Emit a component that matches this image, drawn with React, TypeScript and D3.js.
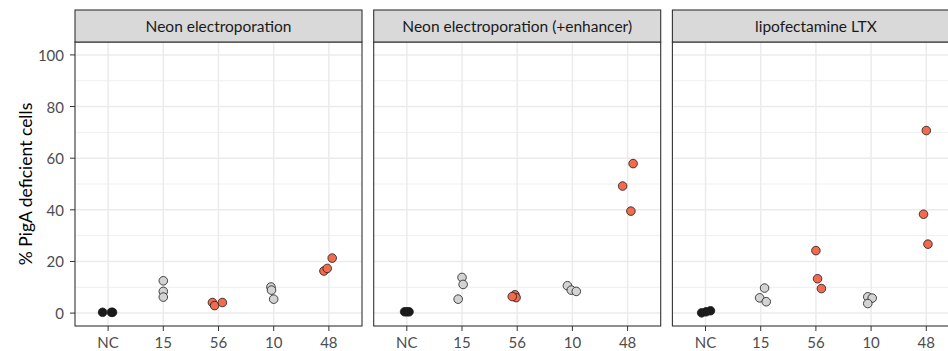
import React from "react";
import * as d3 from "d3";

// facets, doses and colour groups
const facets = [
  "Neon electroporation",
  "Neon electroporation (+enhancer)",
  "lipofectamine LTX",
];
const doses = ["NC", "15", "56", "10", "48"];
const doseFill = ["#1a1a1a", "#d3d3d3", "#f26b4f", "#d3d3d3", "#f26b4f"];
const yTicks = [0, 20, 40, 60, 80, 100];
const yMinor = [10, 30, 50, 70, 90];

// % PigA deficient cells, three replicates per dose (rows follow doses)
const neonValues = [
  [0.3, 0.3, 0.3],
  [12.5, 8.4, 6.2],
  [4.1, 2.9, 4.1],
  [10.1, 8.9, 5.4],
  [16.3, 17.3, 21.3],
];
const enhancerValues = [
  [0.5, 0.5, 0.5],
  [13.8, 11.1, 5.4],
  [7.1, 6.0, 6.4],
  [10.6, 8.9, 8.4],
  [57.9, 49.2, 39.5],
];
const lipoValues = [
  [0.1, 0.5, 0.9],
  [9.7, 5.9, 4.4],
  [24.2, 13.3, 9.5],
  [6.3, 5.8, 3.7],
  [70.7, 38.3, 26.7],
];

// horizontal jitter, in fractions of a category step
const neonJitter = [
  [-0.1, 0.08, 0.06],
  [0.0, 0.0, 0.0],
  [-0.11, -0.07, 0.07],
  [-0.05, -0.04, 0.0],
  [-0.09, -0.03, 0.06],
];
const enhancerJitter = [
  [-0.04, 0.0, 0.04],
  [0.0, 0.02, -0.07],
  [-0.04, -0.02, -0.09],
  [-0.09, -0.02, 0.07],
  [0.1, -0.09, 0.06],
];
const lipoJitter = [
  [-0.07, 0.01, 0.09],
  [0.07, -0.02, 0.1],
  [0.0, 0.03, 0.1],
  [-0.06, 0.02, -0.06],
  [0.0, -0.05, 0.03],
];

const facetValues = [neonValues, enhancerValues, lipoValues];
const facetJitter = [neonJitter, enhancerJitter, lipoJitter];

const width = 948;
const height = 351;
const marginLeft = 75;
const panelWidth = 287;
const panelGap = 11.7;
const stripTop = 10;
const stripHeight = 32;
const panelBottom = 326;
const tickLen = 5;
const font = "Lato, 'Open Sans', sans-serif";

export default function App() {
  const panelTop = stripTop + stripHeight;
  const y = d3.scaleLinear().domain([-5, 105]).range([panelBottom, panelTop]);

  return (
    <svg
      width={width}
      height={height}
      style={{ position: "absolute", left: 0, top: 0, background: "#fff" }}
      fontFamily={font}
    >
      {/* y axis title */}
      <text
        transform={`translate(25, ${(panelTop + panelBottom) / 2}) rotate(-90)`}
        textAnchor="middle"
        dominantBaseline="central"
        fontSize="17.5"
        fill="#000"
      >
        % PigA deficient cells
      </text>

      {/* y tick labels */}
      {yTicks.map((t) => (
        <g key={t}>
          <text
            x={marginLeft - tickLen - 6}
            y={y(t)}
            textAnchor="end"
            dominantBaseline="central"
            fontSize="15"
            fill="#4d4d4d"
          >
            {t}
          </text>
          <line
            x1={marginLeft - tickLen}
            x2={marginLeft}
            y1={y(t)}
            y2={y(t)}
            stroke="#333"
            strokeWidth="1"
          />
        </g>
      ))}

      {facets.map((name, fi) => {
        const left = marginLeft + fi * (panelWidth + panelGap);
        const x = d3
          .scalePoint()
          .domain(doses)
          .range([left, left + panelWidth])
          .padding(0.6);
        const step = x.step();
        return (
          <g key={name}>
            <rect
              x={left}
              y={panelTop}
              width={panelWidth}
              height={panelBottom - panelTop}
              fill="#fff"
            />
            {yMinor.map((t) => (
              <line
                key={"m" + t}
                x1={left}
                x2={left + panelWidth}
                y1={y(t)}
                y2={y(t)}
                stroke="#ebebeb"
                strokeWidth="0.8"
              />
            ))}
            {yTicks.map((t) => (
              <line
                key={"M" + t}
                x1={left}
                x2={left + panelWidth}
                y1={y(t)}
                y2={y(t)}
                stroke="#ebebeb"
                strokeWidth="1.5"
              />
            ))}
            {doses.map((d) => (
              <line
                key={"v" + d}
                x1={x(d)}
                x2={x(d)}
                y1={panelTop}
                y2={panelBottom}
                stroke="#ebebeb"
                strokeWidth="1.5"
              />
            ))}

            {/* points */}
            {doses.map((d, di) =>
              facetValues[fi][di].map((v, ri) => (
                <circle
                  key={d + ri}
                  cx={(x(d) as number) + facetJitter[fi][di][ri] * step}
                  cy={y(v)}
                  r="4.3"
                  fill={doseFill[di]}
                  stroke="#1a1a1a"
                  strokeWidth="0.8"
                />
              ))
            )}

            <rect
              x={left}
              y={panelTop}
              width={panelWidth}
              height={panelBottom - panelTop}
              fill="none"
              stroke="#333"
              strokeWidth="1.1"
            />

            {/* strip */}
            <rect
              x={left}
              y={stripTop}
              width={panelWidth}
              height={stripHeight}
              fill="#d9d9d9"
              stroke="#333"
              strokeWidth="1.1"
            />
            <text
              x={left + panelWidth / 2}
              y={stripTop + stripHeight / 2}
              textAnchor="middle"
              dominantBaseline="central"
              fontSize="15.5"
              fill="#1a1a1a"
            >
              {name}
            </text>

            {/* x axis */}
            {doses.map((d) => (
              <g key={"t" + d}>
                <line
                  x1={x(d)}
                  x2={x(d)}
                  y1={panelBottom}
                  y2={panelBottom + tickLen}
                  stroke="#333"
                  strokeWidth="1"
                />
                <text
                  x={x(d)}
                  y={panelBottom + 16}
                  textAnchor="middle"
                  dominantBaseline="central"
                  fontSize="15"
                  fill="#4d4d4d"
                >
                  {d}
                </text>
              </g>
            ))}
          </g>
        );
      })}
    </svg>
  );
}
